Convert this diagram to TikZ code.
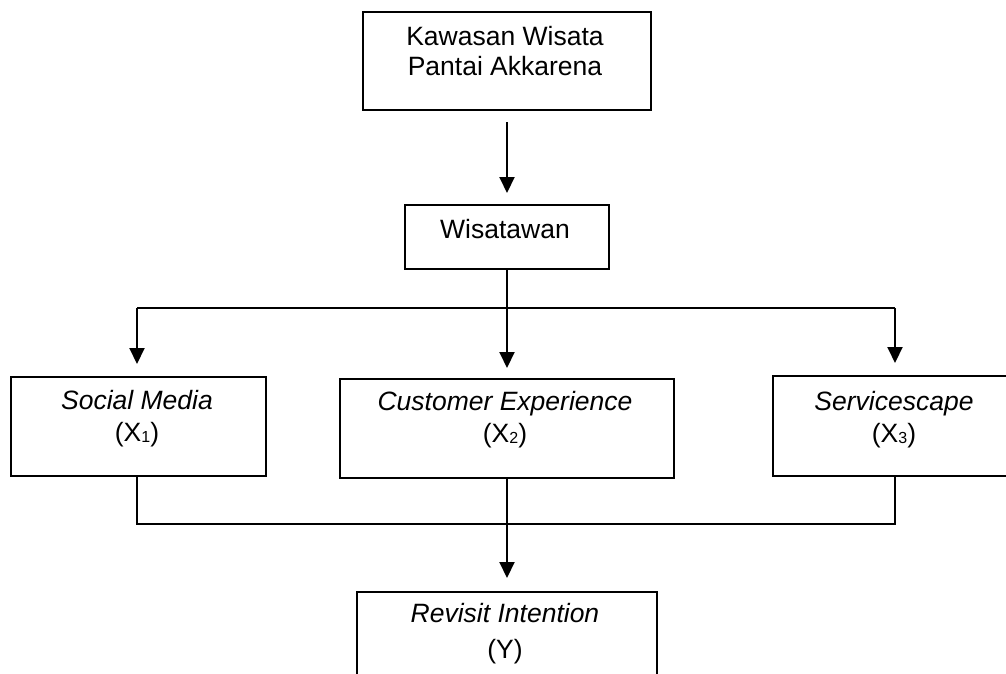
\documentclass[tikz,border=0pt]{standalone}
\usepackage{fontspec}
\setmainfont{Liberation Sans}
\usetikzlibrary{arrows.meta}
\newcommand{\subdig}[1]{\raisebox{-1.5pt}{\fontsize{16}{16}\selectfont #1}}
\begin{document}
\begin{tikzpicture}[x=1pt,y=-1pt,
  box/.style={draw, line width=1.2pt, inner sep=0pt, outer sep=0pt, anchor=north west},
  lbl/.style={anchor=base, inner sep=0pt, font=\fontsize{26.5}{30}\selectfont},
  conn/.style={line width=2pt},
  arr/.style={conn, -{Triangle[length=16pt,width=15pt]}}]
\useasboundingbox (0,0) rectangle (1006,673);
\clip (0,0) rectangle (1006,673);
% boxes
\node[box, minimum width=288pt, minimum height=98pt] (top) at (363,12) {};
\node[box, minimum width=204pt, minimum height=64pt] (wis) at (405,205) {};
\node[box, minimum width=255pt, minimum height=99pt] (sm) at (11,377) {};
\node[box, minimum width=334pt, minimum height=99pt] (ce) at (340,379) {};
\node[box, minimum width=244pt, minimum height=100pt] (ss) at (773,376) {};
\node[box, minimum width=300pt, minimum height=130pt] (ri) at (357,592) {};
% labels
\node[lbl] (topa) at (505,45) {Kawasan Wisata};
\node[lbl] (topb) at (505,75) {Pantai Akkarena};
\node[lbl] (wisa) at (505,238) {Wisatawan};
\node[lbl] (sma) at (137,409) {\itshape Social Media};
\node[lbl] (smb) at (137,441) {(X\subdig{1})};
\node[lbl] (cea) at (505,410) {\itshape Customer Experience};
\node[lbl] (ceb) at (505,442) {(X\subdig{2})};
\node[lbl] (ssa) at (894,410) {\itshape Servicescape};
\node[lbl] (ssb) at (894,442) {(X\subdig{3})};
\node[lbl] (ria) at (505,622) {\itshape Revisit Intention};
\node[lbl] (rib) at (505,658) {(Y)};
% connectors
\coordinate (bus) at (507,308);
\coordinate (bus2) at (507,524);
\coordinate (L) at (137,0);
\coordinate (R) at (895,0);
\draw[arr, shorten <=12pt, shorten >=12pt] (top.south) -- (wis.north);
\draw[conn] (L |- bus) -- (R |- bus);
\draw[arr] (L |- bus) -- ([yshift=13pt]L |- sm.north);
\draw[arr, shorten >=11pt] (wis.south) -- (ce.north);
\draw[arr] (R |- bus) -- ([yshift=13pt]R |- ss.north);
\draw[conn] (L |- sm.south) -- (L |- bus2) -- (R |- bus2) -- (R |- ss.south);
\draw[arr, shorten >=14pt] (ce.south) -- (ri.north);
\end{tikzpicture}
\end{document}
